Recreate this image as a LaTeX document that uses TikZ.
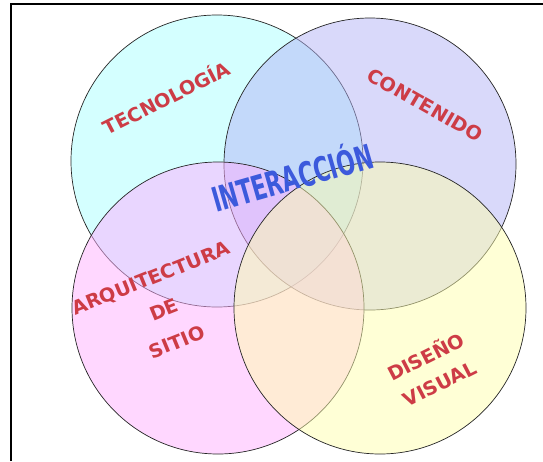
\documentclass[tikz,border=0pt]{standalone}
\usepackage{fontspec}
\setmainfont{DejaVu Sans}
\usepackage{xcolor}
\usepackage{tikz}
\usetikzlibrary{positioning}
\definecolor{tecfill}{HTML}{A9FFFF}
\definecolor{confill}{HTML}{B3B3F5}
\definecolor{arqfill}{HTML}{FFAFFF}
\definecolor{disfill}{HTML}{FFFFAD}
\definecolor{labelred}{HTML}{CD3C46}
\definecolor{labelblue}{HTML}{3C5ADC}

\tikzset{
  area/.style={circle, draw=black!85, line width=0.7pt, fill opacity=0.5,
    inner sep=0pt, minimum size=292pt},
  area label/.style={text=labelred, align=center, xscale=1.02,
    font=\bfseries\fontsize{19}{23}\selectfont}
}

\begin{document}
\begin{tikzpicture}[x=1pt, y=-1pt]
  \useasboundingbox (0,0) rectangle (543,461);
  % frame on the left and top
  \draw[line width=2pt, line join=miter] (11,461) -- (11,4) -- (543,4);

  % the four areas
  \node[area, fill=tecfill] (tec) at (217,161) {};
  \node[area, fill=confill] (con) at (370,164) {};
  \node[area, fill=arqfill] (arq) at (218,308) {};
  \node[area, fill=disfill] (dis) at (380,308) {};

  % labels
  \node[area label, rotate=27] (tec label) at (166,97) {TECNOLOGÍA};
  \node[area label, rotate=-30] (con label) at (425,105) {CONTENIDO};
  \node[area label, rotate=22, font=\bfseries\fontsize{19}{34.5}\selectfont] (arq label) at (164,310)
    {ARQUITECTURA\\DE\\SITIO};
  \node[area label, rotate=27, font=\bfseries\fontsize{19}{30}\selectfont] (dis label) at (432,369)
    {DISEÑO\\VISUAL};
  \node[text=labelblue, anchor=base, rotate=16, xscale=0.64,
    font=\bfseries\fontsize{34}{40}\selectfont] (int label) at (296,190) {INTERACCIÓN};
\end{tikzpicture}
\end{document}
